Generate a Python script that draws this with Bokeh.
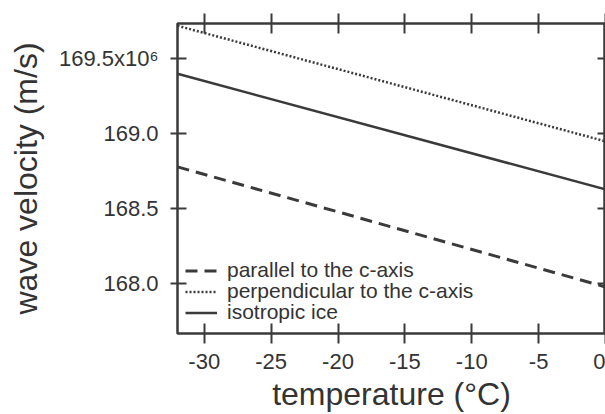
from bokeh.plotting import figure
from bokeh.models import LinearAxis, Range1d, FixedTicker, Legend, LegendItem
from bokeh.embed import file_html
from bokeh.resources import INLINE

# data
temperature = [-32, 0]
parallel = [168.78, 167.98]
perpendicular = [169.72, 168.95]
isotropic = [169.40, 168.63]

x_ticks = [-30, -25, -20, -15, -10, -5, 0]
x_tick_labels = {-30: "-30", -25: "-25", -20: "-20", -15: "-15", -10: "-10", -5: "-5", 0: "0"}
y_ticks = [168.0, 168.5, 169.0, 169.5]
y_tick_labels = {168.0: "168.0", 168.5: "168.5", 169.0: "169.0", 169.5: "169.5x10⁶"}
series_names = ["parallel to the c-axis", "perpendicular to the c-axis", "isotropic ice"]

FONT = "Liberation Sans"
INK = "#3a3a3a"
TXT = "#333333"

p = figure(width=605, height=414, output_backend="svg", toolbar_location=None,
           x_range=Range1d(-32, 0), y_range=Range1d(167.67, 169.735),
           min_border_left=177, min_border_top=23, min_border_bottom=0,
           min_border_right=0, x_axis_location=None, y_axis_location=None)
p.grid.visible = False
p.outline_line_color = INK
p.outline_line_width = 2.5
p.background_fill_color = "white"
p.border_fill_color = "white"

def style(ax, labels=True):
    ax.axis_line_color = None
    ax.major_tick_line_color = INK
    ax.major_tick_line_width = 2
    ax.minor_tick_line_color = None
    ax.major_label_text_font = FONT
    ax.major_label_text_color = TXT
    ax.axis_label_text_font = FONT
    ax.axis_label_text_font_style = "normal"
    ax.axis_label_text_color = TXT
    if not labels:
        ax.major_label_overrides = {t: "" for t in ax.ticker.ticks}
        ax.major_label_text_font_size = "1px"
        ax.major_label_standoff = 0

xb = LinearAxis(ticker=FixedTicker(ticks=x_ticks), axis_label="temperature (°C)",
                major_label_overrides=x_tick_labels)
style(xb)
xb.major_tick_in = 10
xb.major_tick_out = 10
xb.major_label_standoff = 10
xb.major_label_text_font_size = "22px"
xb.axis_label_text_font_size = "32px"
xb.axis_label_standoff = 4
p.add_layout(xb, "below")

xt = LinearAxis(ticker=FixedTicker(ticks=x_ticks))
style(xt, labels=False)
xt.major_tick_in = 10
xt.major_tick_out = 10
p.add_layout(xt, "above")

yl = LinearAxis(ticker=FixedTicker(ticks=y_ticks), axis_label="wave velocity (m/s)",
                major_label_overrides=y_tick_labels)
style(yl)
yl.major_tick_in = 9
yl.major_tick_out = 7
yl.major_label_standoff = 12
yl.major_label_text_font_size = "22px"
yl.axis_label_text_font_size = "32px"
yl.axis_label_standoff = 12
p.add_layout(yl, "left")

yr = LinearAxis(ticker=FixedTicker(ticks=y_ticks))
style(yr, labels=False)
yr.major_tick_in = 8
yr.major_tick_out = 0
p.add_layout(yr, "right")

r_par = p.line(temperature, parallel, line_color=INK, line_width=3, line_dash="12 7")
r_perp = p.line(temperature, perpendicular, line_color=INK, line_width=2.5, line_dash="2 2")
r_iso = p.line(temperature, isotropic, line_color=INK, line_width=2.5)

# one legend per row so the rows can sit as tightly as in the reference
for name, rend, y_off in zip(series_names, [r_par, r_perp, r_iso], [51, 30, 9]):
    lg = Legend(items=[LegendItem(label=name, renderers=[rend])],
                location=(8, y_off), padding=0, spacing=0, margin=0,
                label_height=21, glyph_height=21, glyph_width=32, label_standoff=10,
                label_text_font=FONT, label_text_font_size="21px", label_text_color=TXT,
                background_fill_alpha=0, border_line_color=None)
    p.add_layout(lg)

open("out.html", "w").write(file_html(p, INLINE))
